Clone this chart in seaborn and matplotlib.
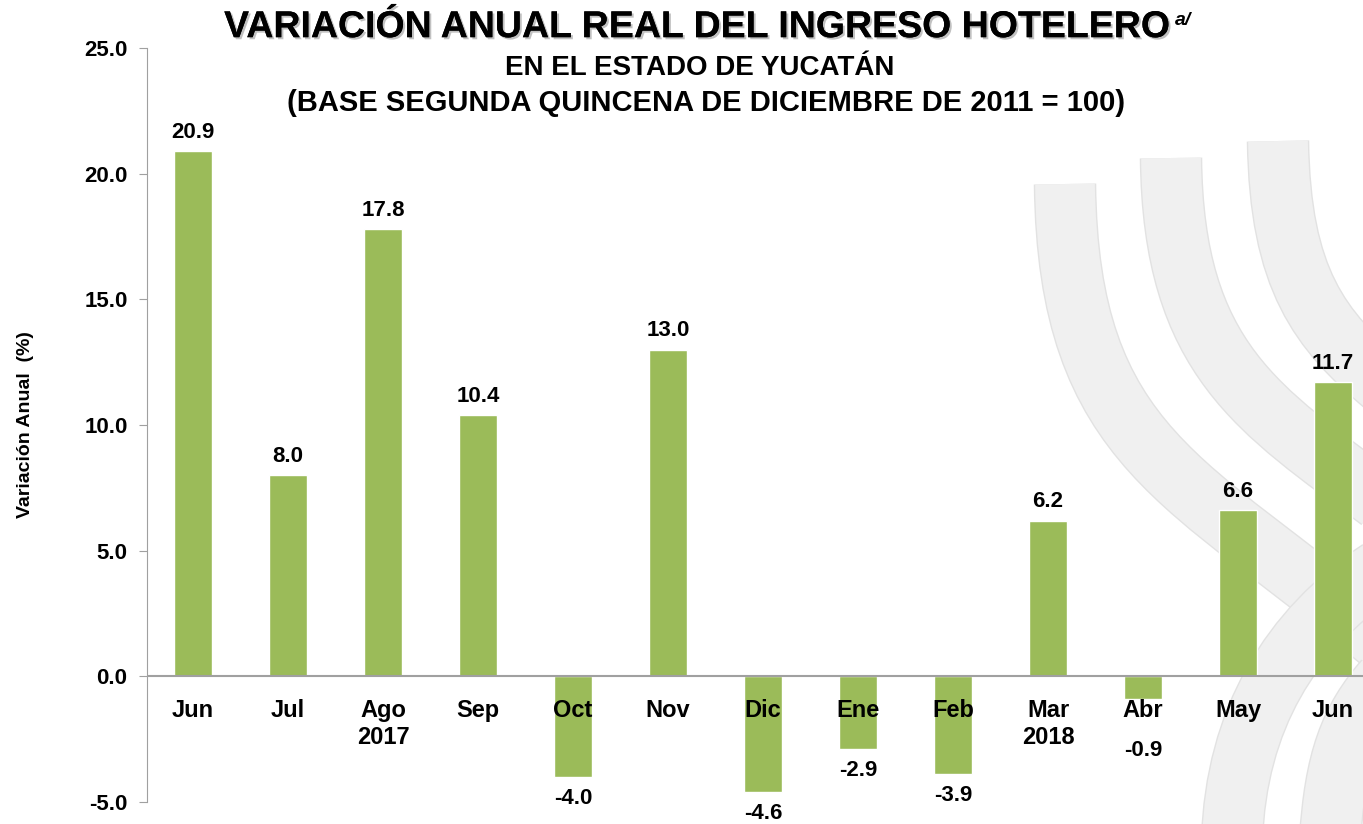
import numpy as np
import pandas as pd
import seaborn as sns
import matplotlib
import matplotlib.pyplot as plt
import matplotlib.patheffects as pe
from matplotlib.path import Path
from matplotlib.patches import PathPatch

sns.set_style('white')
plt.rcParams['font.family'] = ['Liberation Sans', 'DejaVu Sans']
plt.rcParams['text.color'] = 'black'
plt.rcParams['axes.labelcolor'] = 'black'
plt.rcParams['ytick.color'] = 'black'

# data
meses = ['Jun', 'Jul', 'Ago', 'Sep', 'Oct', 'Nov', 'Dic', 'Ene', 'Feb', 'Mar', 'Abr', 'May', 'Jun ']
anios = ['', '', '2017', '', '', '', '', '', '', '2018', '', '', '']
variacion = [20.9, 8.0, 17.8, 10.4, -4.0, 13.0, -4.6, -2.9, -3.9, 6.2, -0.9, 6.6, 11.7]

df = pd.DataFrame({'mes': meses, 'var': variacion})

fig = plt.figure(figsize=(13.63, 8.24), dpi=100)

# background watermark (grey ribbons), drawn in pixel coords
bg = fig.add_axes([0, 0, 1, 1], zorder=0)
bg.set_xlim(0, 1363)
bg.set_ylim(824, 0)
bg.axis('off')
cintas = [
    [(1065, 184), (1068, 450), (1190, 480), (1380, 640)],
    [(1171, 158), (1173, 360), (1260, 410), (1380, 500)],
    [(1278, 141), (1280, 280), (1320, 330), (1385, 385)],
    [(1232, 840), (1236, 720), (1290, 630), (1380, 570)],
    [(1330, 840), (1335, 760), (1350, 720), (1385, 680)],
]
for pts in cintas:
    p = Path(pts, [Path.MOVETO, Path.CURVE4, Path.CURVE4, Path.CURVE4])
    bg.add_patch(PathPatch(p, fill=False, edgecolor='#E2E2E2', lw=45, capstyle='butt'))
    bg.add_patch(PathPatch(p, fill=False, edgecolor='#F0F0F0', lw=43, capstyle='butt'))

ax = fig.add_axes([0.1079, 0.0267, 0.8921, 0.915], zorder=1)
ax.patch.set_alpha(0)
sns.barplot(data=df, x='mes', y='var', color='#9BBB59', saturation=1, width=0.4, ax=ax, zorder=2)

ax.set_ylim(-5, 25)
ax.set_xlim(-0.485, 12.316)
yt = np.arange(-5, 25.1, 5)
ax.set_yticks(yt)
ax.set_yticklabels([f'{v:.1f}' for v in yt], fontsize=16, fontweight='bold')
ax.tick_params(axis='y', length=6, color='#A0A0A0', left=True, pad=8)
ax.set_xticks([])
ax.set_xlabel('')
ax.set_ylabel('Variación Anual  (%)', fontsize=14, fontweight='bold', labelpad=36)

for s in ['top', 'right', 'bottom']:
    ax.spines[s].set_visible(False)
ax.spines['left'].set_color('#A0A0A0')
ax.axhline(0, color='#A0A0A0', lw=1.5, zorder=3)

# month / year labels under the zero line
for i, (m, a) in enumerate(zip(meses, anios)):
    ax.text(i, -1.35, m.strip(), ha='center', va='center', fontsize=17, fontweight='bold', zorder=4)
    if a:
        ax.text(i, -2.43, a, ha='center', va='center', fontsize=17, fontweight='bold', zorder=4)

# value labels
for i, v in enumerate(variacion):
    if v >= 0:
        ax.annotate(f'{v:.1f}', (i, v), xytext=(0, 6), textcoords='offset points',
                    ha='center', va='bottom', fontsize=16, fontweight='bold')
    else:
        ax.annotate(f'{v:.1f}', (i, min(v, -2.1)), xytext=(0, -8), textcoords='offset points',
                    ha='center', va='top', fontsize=16, fontweight='bold')

sombra = [pe.withSimplePatchShadow(offset=(1.5, -1.5), shadow_rgbFace='#999999', alpha=0.6), pe.Normal()]
fig.text(0.511, 0.967, 'VARIACIÓN ANUAL REAL DEL INGRESO HOTELERO', ha='center', va='center',
         fontsize=27, fontweight='bold', path_effects=sombra)
fig.text(0.862, 0.975, 'a/', ha='left', va='center', fontsize=14, fontweight='bold', style='italic')
fig.text(0.513, 0.918, 'EN EL ESTADO DE YUCATÁN', ha='center', va='center',
         fontsize=20, fontweight='bold')
fig.text(0.518, 0.875, '(BASE SEGUNDA QUINCENA DE DICIEMBRE DE 2011 = 100)', ha='center', va='center',
         fontsize=21, fontweight='bold')

fig.savefig('out.png', dpi=100)
